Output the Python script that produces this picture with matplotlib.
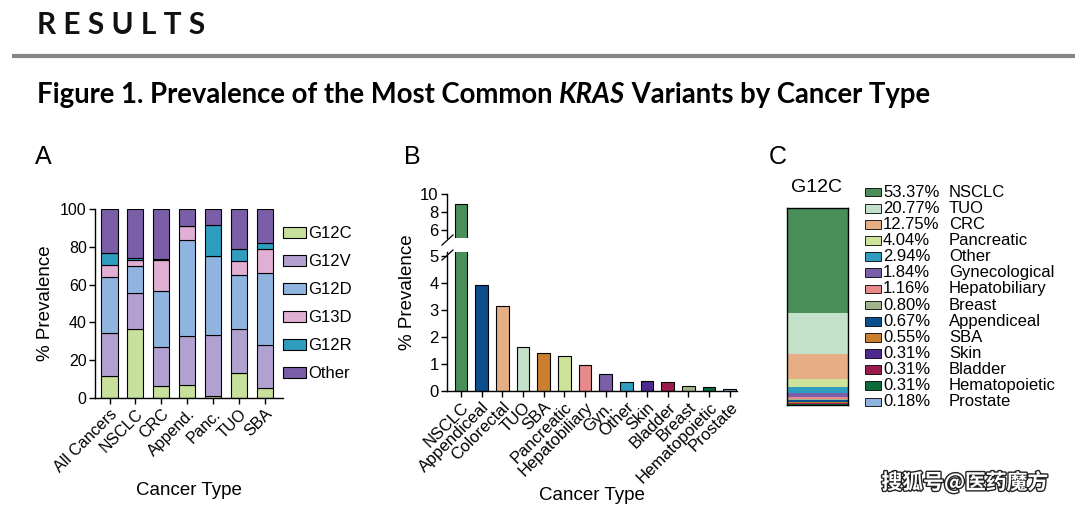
import matplotlib.pyplot as plt
import matplotlib.patheffects as pe
from matplotlib.patches import Rectangle
import numpy as np

plt.rcParams['font.family'] = ['Liberation Sans', 'DejaVu Sans']

# Panel A: variant share within each cancer type (%)
a_types = ["All Cancers", "NSCLC", "CRC", "Append.", "Panc.", "TUO", "SBA"]
a_variants = ["G12C", "G12V", "G12D", "G13D", "G12R", "Other"]
a_colors = ["#c7e09b", "#b2a1d0", "#90b4e0", "#dfafd4", "#2e9dbf", "#7a5ea8"]
g12c = [11.5, 36.3, 6.5, 6.8, 1.0, 13.2, 5.3]
g12v = [22.8, 19.5, 20.3, 25.8, 32.2, 23.1, 22.9]
g12d = [29.7, 14.2, 29.7, 51.0, 42.0, 28.9, 38.1]
g13d = [6.5, 3.0, 16.3, 7.2, 0.0, 7.4, 12.3]
g12r = [6.3, 1.0, 0.7, 0.0, 16.4, 6.2, 3.4]
other = [23.2, 26.0, 26.5, 9.2, 8.4, 21.2, 18.0]

# Panel B: G12C prevalence by cancer type (%)
b_types = ["NSCLC", "Appendiceal", "Colorectal", "TUO", "SBA", "Pancreatic",
           "Hepatobiliary", "Gyn.", "Other", "Skin", "Bladder", "Breast",
           "Hematopoietic", "Prostate"]
b_values = [8.9, 3.93, 3.15, 1.63, 1.41, 1.30, 0.97, 0.63, 0.33, 0.37, 0.33,
            0.19, 0.16, 0.07]
b_colors = ["#4a8f5a", "#0b4f8e", "#e6ae85", "#c3e0c8", "#c97f2e", "#cde39a",
            "#e88a8a", "#7a5ea8", "#2e9dbf", "#4e2a8e", "#9b1b4f", "#a1b58a",
            "#0b6b3a", "#8fb3e0"]

# Panel C: share of G12C cases by cancer type (%)
c_names = ["NSCLC", "TUO", "CRC", "Pancreatic", "Other", "Gynecological",
           "Hepatobiliary", "Breast", "Appendiceal", "SBA", "Skin", "Bladder",
           "Hematopoietic", "Prostate"]
c_values = [53.37, 20.77, 12.75, 4.04, 2.94, 1.84, 1.16, 0.80, 0.67, 0.55,
            0.31, 0.31, 0.31, 0.18]
c_colors = ["#4a8f5a", "#c3e0c8", "#e6ae85", "#cde39a", "#2e9dbf", "#7a5ea8",
            "#e88a8a", "#a1b58a", "#0b4f8e", "#c97f2e", "#4e2a8e", "#9b1b4f",
            "#0b6b3a", "#8fb3e0"]

W, H = 1075, 505
fig = plt.figure(figsize=(W / 100, H / 100), dpi=100)


def box(x0, y0, x1, y1):
    # pixel box (top-left origin) -> figure fraction
    return [x0 / W, 1 - y1 / H, (x1 - x0) / W, (y1 - y0) / H]


def style(ax):
    for s in ["top", "right"]:
        ax.spines[s].set_visible(False)
    for s in ["left", "bottom"]:
        ax.spines[s].set_linewidth(1.0)
    ax.tick_params(length=4, width=1.0, labelsize=11.5, pad=2)


# header
fig.text(37 / W, 1 - 25 / H, "R E S U L T S", fontsize=21.5, fontweight="bold",
         family="Lato", va="center", ha="left", color="#111")
fig.add_artist(plt.Line2D([14 / W, 1], [1 - 56 / H] * 2, color="#858585", lw=3))
t1 = fig.text(37 / W, 1 - 95 / H, "Figure 1. Prevalence of the Most Common ",
              fontsize=19.8, fontweight="bold", family="Lato", va="center")
t2 = fig.text(0, 0, "KRAS", fontsize=19.8, fontweight="bold", style="italic",
              family="Lato", va="center")
t3 = fig.text(0, 0, " Variants by Cancer Type", fontsize=19.8, fontweight="bold",
              family="Lato", va="center")
fig.canvas.draw()
r = fig.canvas.get_renderer()
bb = t1.get_window_extent(r)
t2.set_position(((bb.x1) / W, 1 - 95 / H))
bb = t2.get_window_extent(r)
t3.set_position(((bb.x1) / W, 1 - 95 / H))

for lab, x in [("A", 35), ("B", 404), ("C", 769)]:
    fig.text(x / W, 1 - 157 / H, lab, fontsize=18, va="center", ha="left")

# Panel A
axA = fig.add_axes(box(95, 209, 283, 398))
xa = np.arange(len(a_types))
bottom = np.zeros(len(a_types))
for name, vals, col in zip(a_variants, [g12c, g12v, g12d, g13d, g12r, other], a_colors):
    axA.bar(xa, vals, 0.62, bottom=bottom, color=col, edgecolor="black",
            linewidth=0.8, label=name)
    bottom += np.array(vals)
axA.set_ylim(0, 100)
axA.set_xlim(-0.56, 6.7)
axA.set_yticks([0, 20, 40, 60, 80, 100])
axA.set_xticks(xa)
axA.set_xticklabels(a_types, rotation=45, ha="right", rotation_mode="anchor",
                    fontsize=12)
style(axA)
axA.set_ylabel("% Prevalence", fontsize=13.5, labelpad=4)
axA.set_xlabel("Cancer Type", fontsize=13.5, labelpad=5)
axA.legend(loc="upper left", bbox_to_anchor=(283 / W, 1 - 226 / H),
           bbox_transform=fig.transFigure, frameon=False, fontsize=12,
           handlelength=1.35, handleheight=0.65, labelspacing=0.78,
           handletextpad=0.15, borderpad=0, borderaxespad=0)

# Panel B (broken axis)
axBt = fig.add_axes(box(447, 194, 737, 238))
axBb = fig.add_axes(box(447, 252, 737, 391))
xb = np.arange(len(b_types))
for ax in (axBt, axBb):
    ax.bar(xb, b_values, 0.61, color=b_colors, edgecolor="black", linewidth=0.8)
    ax.set_xlim(-0.68, 13.35)
    style(ax)
    ax.tick_params(labelsize=12)
axBt.set_ylim(5.1, 10)
axBt.set_yticks([6, 8, 10])
axBt.spines["bottom"].set_visible(False)
axBt.tick_params(axis="x", bottom=False, labelbottom=False)
axBb.set_ylim(0, 5.15)
axBb.set_yticks([0, 1, 2, 3, 4, 5])
axBb.set_xticks(xb)
axBb.set_xticklabels(b_types, rotation=45, ha="right", rotation_mode="anchor",
                     fontsize=12)
axBb.set_xlabel("Cancer Type", fontsize=13.5, labelpad=1)
fig.text(408 / W, 1 - 292 / H, "% Prevalence", rotation=90, fontsize=13.5,
         ha="center", va="center")
# break marks
for yc in (241, 256):
    fig.add_artist(plt.Line2D([442 / W, 453 / W], [1 - (yc + 4) / H, 1 - (yc - 6) / H],
                              color="black", lw=0.9))

# Panel C
axC = fig.add_axes(box(787, 208, 848, 405))
top = 100.0
for v, col in zip(c_values, c_colors):
    axC.bar(0, v, 1.0, bottom=top - v, color=col, edgecolor="none")
    top -= v
axC.set_xlim(-0.5, 0.5)
axC.set_ylim(0, 100)
axC.set_xticks([])
axC.set_yticks([])
for s in axC.spines.values():
    s.set_linewidth(1.0)
fig.text(817 / W, 1 - 188 / H, "G12C", fontsize=14, ha="center", va="center")

axL = fig.add_axes(box(862, 184, 1062, 410))
axL.axis("off")
axL.set_xlim(0, 200)
axL.set_ylim(13.5, -0.5)
for i, (n, v, col) in enumerate(zip(c_names, c_values, c_colors)):
    axL.add_patch(Rectangle((3, i - 0.27), 16, 0.54, facecolor=col,
                            edgecolor="black", linewidth=0.6))
    axL.text(21, i, f"{v:.2f}%", fontsize=12, va="center", ha="left")
    axL.text(87, i, n, fontsize=12, va="center", ha="left")

# watermark
fig.text(965 / W, 1 - 482 / H, "搜狐号@医药魔方", fontsize=15, fontweight="bold",
         family=["Noto Sans CJK SC", "DejaVu Sans"], color="white", ha="center",
         va="center", path_effects=[pe.withStroke(linewidth=2, foreground="#222")])

fig.savefig("out.png", dpi=100)
